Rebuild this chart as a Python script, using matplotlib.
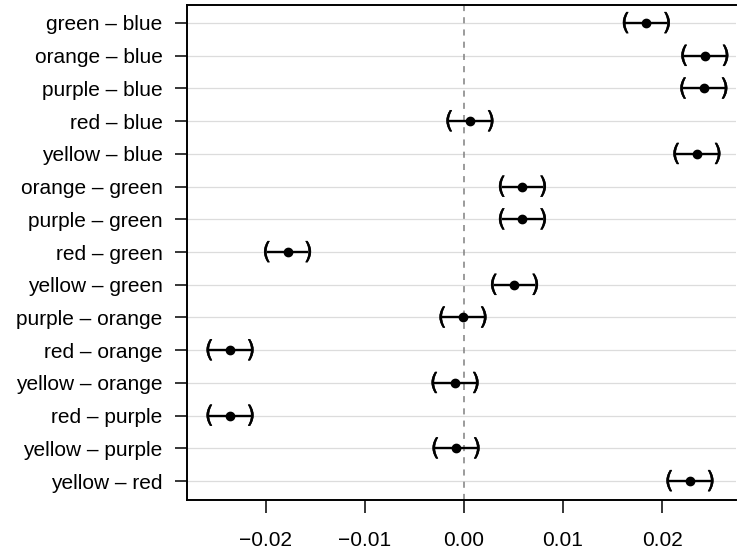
import numpy as np
import matplotlib.pyplot as plt
import matplotlib.patheffects as pe

plt.rcParams['font.family'] = ['Liberation Sans', 'DejaVu Sans']

LABELS = ['green – blue', 'orange – blue', 'purple – blue', 'red – blue', 'yellow – blue',
          'orange – green', 'purple – green', 'red – green', 'yellow – green',
          'purple – orange', 'red – orange', 'yellow – orange',
          'red – purple', 'yellow – purple', 'yellow – red']
ESTIMATE = [0.0184, 0.0243, 0.0242, 0.0006, 0.0235,
            0.0059, 0.0059, -0.0178, 0.0051,
            -0.0001, -0.0236, -0.0009,
            -0.0236, -0.0008, 0.0228]
HALF_CI = [0.0021] * len(LABELS)

est = np.array(ESTIMATE)
half = np.array(HALF_CI)
lo, hi = est - half, est + half
y = np.arange(1, len(LABELS) + 1)

fig = plt.figure(figsize=(7.37, 5.52), dpi=100)
ax = fig.add_axes([187 / 737, 52 / 552, 549 / 737, 495 / 552])

for yy in y:
    ax.axhline(yy, color='#dcdcdc', lw=0.9, zorder=0)
ax.axvline(0, color='#808080', lw=1.1, ls=(0, (4, 4)), zorder=1)

ax.hlines(y, lo, hi, color='black', lw=1.7, zorder=2)
ax.plot(est, y, 'o', color='black', ms=6, zorder=3)
thick = [pe.withStroke(linewidth=0.35, foreground='black')]
for l, h, yy in zip(lo, hi, y):
    ax.text(l, yy, '(', ha='center', va='center', fontsize=17, family='DejaVu Sans',
            path_effects=thick, zorder=3)
    ax.text(h, yy, ')', ha='center', va='center', fontsize=17, family='DejaVu Sans',
            path_effects=thick, zorder=3)

ax.set_yticks(y)
ax.set_yticklabels(LABELS, fontsize=15)
ax.set_xticks([-0.02, -0.01, 0.0, 0.01, 0.02])
ax.set_xticklabels(['−0.02', '−0.01', '0.00', '0.01', '0.02'], fontsize=15)
ax.set_xlim(-0.02794, 0.02745)
ax.set_ylim(15.58, 0.45)

ax.spines['right'].set_visible(False)
for s in ['left', 'top', 'bottom']:
    ax.spines[s].set_linewidth(1.4)
ax.tick_params(axis='both', length=9, width=1.1, color='black')
ax.tick_params(axis='x', pad=13)
ax.tick_params(axis='y', pad=8.5)

fig.savefig('out.png', dpi=100)
